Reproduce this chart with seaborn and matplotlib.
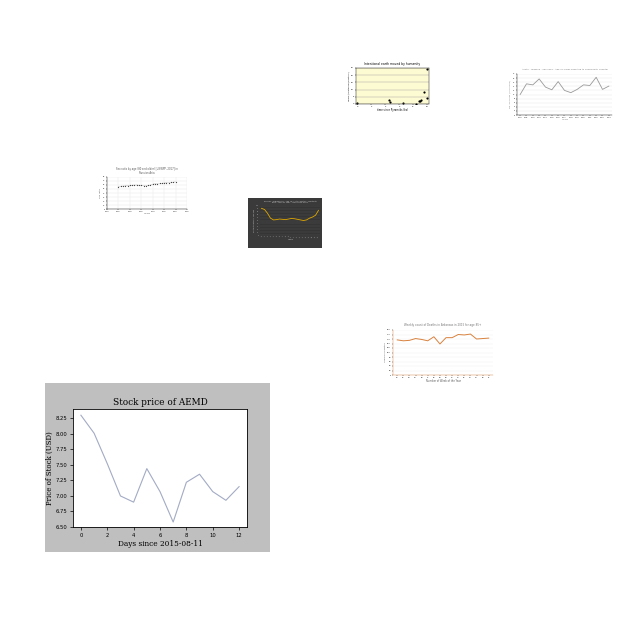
import numpy as np
import pandas as pd
import matplotlib
matplotlib.use('Agg')
import matplotlib.pyplot as plt
from matplotlib.patches import Rectangle
import seaborn as sns

# main chart: stock price of AEMD
days = list(range(13))
price = [8.30, 8.01, 7.52, 7.00, 6.90, 7.44, 7.07, 6.58, 7.22, 7.35, 7.07, 6.93, 7.15]

# thumbnail: intentional earth moved (scatter)
earth_x = [0.0, 4.5, 4.7, 6.5, 8.5, 8.8, 9.0, 9.2, 9.6, 10.0, 10.0]
earth_y = [0.5, 2.5, 1.5, 0.5, 0.1, 2.0, 2.3, 2.5, 8.0, 24.0, 4.0]

# thumbnail: top right grey line
tr_years = list(range(2000, 2015))
tr_vals = [10.0, 15.2, 14.7, 17.6, 13.6, 12.3, 16.3, 12.0, 10.9, 12.5, 14.7, 14.4, 18.4, 12.5, 14.1]

# thumbnail: sex ratio dotted line
sr_years = list(range(1985, 2011))
sr_vals = [56, 57, 57.5, 58, 58.5, 59, 59.5, 60, 60, 59.5, 59, 58.5, 58.5, 59, 60, 62,
           63, 63.5, 64, 64.5, 65, 65.5, 66, 66.5, 67, 68]

# thumbnail: dark chart
dk_x = list(range(20))
dk_vals = [92, 88, 75, 58, 52, 53, 55, 54, 53, 55, 57, 56, 54, 52, 50, 52, 58, 62, 68, 85]

# thumbnail: weekly deaths in orange
wk_x = list(range(36, 52))
wk_vals = [156, 152, 154, 162, 158, 152, 170, 138, 166, 166, 180, 178, 182, 160, 162, 164]

fig = plt.figure(figsize=(6.4, 6.4), dpi=100)


def box(x0, y0, x1, y1):
    return [x0 / 640, 1 - y1 / 640, (x1 - x0) / 640, (y1 - y0) / 640]


def tiny(ax, fs=1.8):
    ax.tick_params(labelsize=fs, length=1, width=0.3, pad=0.5)
    for s in ax.spines.values():
        s.set_linewidth(0.3)


# ---- main chart
fig.patches.append(Rectangle((45 / 640, 1 - 552 / 640), 225 / 640, 169 / 640,
                             transform=fig.transFigure, facecolor='#bfbfbf',
                             edgecolor='none', zorder=-10))
ax = fig.add_axes(box(73, 409, 247, 527))
sns.lineplot(x=days, y=price, ax=ax, color='#a3abc4', linewidth=0.8)
ax.set_xlim(-0.6, 12.6)
ax.set_ylim(6.5, 8.4)
ax.set_xticks([0, 2, 4, 6, 8, 10, 12])
ax.set_yticks([6.5, 6.75, 7.0, 7.25, 7.5, 7.75, 8.0, 8.25])
ax.set_yticklabels(['6.50', '6.75', '7.00', '7.25', '7.50', '7.75', '8.00', '8.25'])
ax.tick_params(labelsize=3.8, length=2, width=0.5, pad=2)
for s in ax.spines.values():
    s.set_linewidth(0.6)
ax.set_title('Stock price of AEMD', family='DejaVu Serif', fontsize=6.4, pad=3)
ax.set_xlabel('Days since 2015-08-11', family='DejaVu Serif', fontsize=5.3, labelpad=1.5)
ax.set_ylabel('Price of Stock (USD)', family='DejaVu Serif', fontsize=5.0, labelpad=1)

# ---- scatter thumbnail
ax2 = fig.add_axes(box(356, 68, 429, 104))
ax2.set_facecolor('#fdfbd2')
sns.scatterplot(x=earth_x, y=earth_y, ax=ax2, color='black', s=2.5, linewidth=0)
ax2.set_xlim(-0.2, 10.3)
ax2.set_ylim(0, 25)
ax2.set_yticks([0, 5, 10, 15, 20, 25])
ax2.set_xticks([0, 2, 4, 6, 8, 10])
ax2.grid(axis='y', color='#999999', linewidth=0.3)
tiny(ax2, 1.5)
ax2.set_title('Intentional earth moved by humanity', fontsize=2.2, pad=2)
ax2.set_xlabel('time since Pyramids (ka)', fontsize=1.8, labelpad=1)
ax2.set_ylabel('mass (teratonnes/century)', fontsize=1.6, labelpad=1)

# ---- top right thumbnail
ax3 = fig.add_axes(box(517, 74, 612, 115))
sns.lineplot(x=tr_years, y=tr_vals, ax=ax3, color='#999999', linewidth=0.6)
ax3.set_ylim(0, 20)
ax3.set_xlim(1999.5, 2014.5)
ax3.set_xticks(tr_years)
ax3.set_yticks(range(0, 21, 2))
ax3.grid(axis='y', color='#e6e6e6', linewidth=0.3)
ax3.spines['top'].set_visible(False)
ax3.spines['right'].set_visible(False)
tiny(ax3, 1.3)
ax3.set_title('Austin - Mabank - San Saba - Age 75 Cases Reported to Community Hospital',
              fontsize=1.6, color='#777777', pad=3)
ax3.set_xlabel('Years', fontsize=1.6, color='#777777', labelpad=1)
ax3.set_ylabel('No. of Cases (in Millions)', fontsize=1.6, color='#777777', labelpad=1)

# ---- sex ratio thumbnail
ax4 = fig.add_axes(box(107, 177, 187, 209))
sns.lineplot(x=sr_years, y=sr_vals, ax=ax4, color='#444444', linewidth=0.3,
             linestyle=':', marker='o', markersize=0.9, markeredgewidth=0)
ax4.set_xlim(1980, 2015)
ax4.set_ylim(0, 80)
ax4.set_xticks(range(1980, 2016, 5))
ax4.set_yticks(range(0, 81, 10))
ax4.grid(color='#e6e6e6', linewidth=0.3)
ax4.spines['top'].set_visible(False)
ax4.spines['right'].set_visible(False)
tiny(ax4, 1.3)
ax4.set_title('Sex ratio by age (80 and older) [UNWPP, 2017] in\nRussian Asia',
              fontsize=1.8, color='#555555', pad=2)
ax4.set_xlabel('Years', fontsize=1.6, color='#555555', labelpad=1)
ax4.set_ylabel('Sex ratio', fontsize=1.6, color='#555555', labelpad=1)

# ---- dark thumbnail
fig.patches.append(Rectangle((248 / 640, 1 - 248 / 640), 74 / 640, 50 / 640,
                             transform=fig.transFigure, facecolor='#3a3a3a',
                             edgecolor='none', zorder=-10))
ax5 = fig.add_axes(box(260, 206, 320, 235))
ax5.set_facecolor('#353535')
sns.lineplot(x=dk_x, y=dk_vals, ax=ax5, color='#e0a800', linewidth=0.6)
ax5.set_xlim(-0.5, 19.5)
ax5.set_ylim(0, 100)
ax5.set_xticks(dk_x)
ax5.set_yticks(range(0, 101, 10))
ax5.grid(axis='y', color='#555555', linewidth=0.3)
for s in ax5.spines.values():
    s.set_visible(False)
ax5.tick_params(labelsize=1.2, length=0, pad=0.5, colors='#bbbbbb')
plt.setp(ax5.get_xticklabels(), rotation=45)
ax5.set_title('Kansas - Wabaunsee - Age 75+ Total Deaths - Mortality\nRate - Year by Year - Years 2000-2019',
              fontsize=1.4, color='#cccccc', pad=2)
ax5.set_xlabel('Years', fontsize=1.4, color='#cccccc', labelpad=1)
ax5.set_ylabel('Mortality rate per 100,000', fontsize=1.3, color='#cccccc', labelpad=1)

# ---- weekly deaths thumbnail
ax6 = fig.add_axes(box(393, 330, 493, 375))
sns.lineplot(x=wk_x, y=wk_vals, ax=ax6, color='#d9813d', linewidth=0.7)
ax6.set_xlim(35.3, 51.7)
ax6.set_ylim(0, 200)
ax6.set_xticks(wk_x)
ax6.set_yticks(range(0, 201, 20))
ax6.grid(axis='y', color='#eeeeee', linewidth=0.3)
ax6.spines['top'].set_visible(False)
ax6.spines['right'].set_visible(False)
ax6.spines['left'].set_color('#d9813d')
ax6.spines['bottom'].set_color('#d9813d')
tiny(ax6, 1.4)
ax6.set_title('Weekly count of Deaths in Arkansas in 2015 for age 85+',
              fontsize=2.0, color='#777777', pad=3)
ax6.set_xlabel('Number of Week of the Year', fontsize=1.8, color='#555555', labelpad=1)
ax6.set_ylabel('number of deaths', fontsize=1.6, color='#555555', labelpad=1)

fig.savefig('out.png', dpi=100)
